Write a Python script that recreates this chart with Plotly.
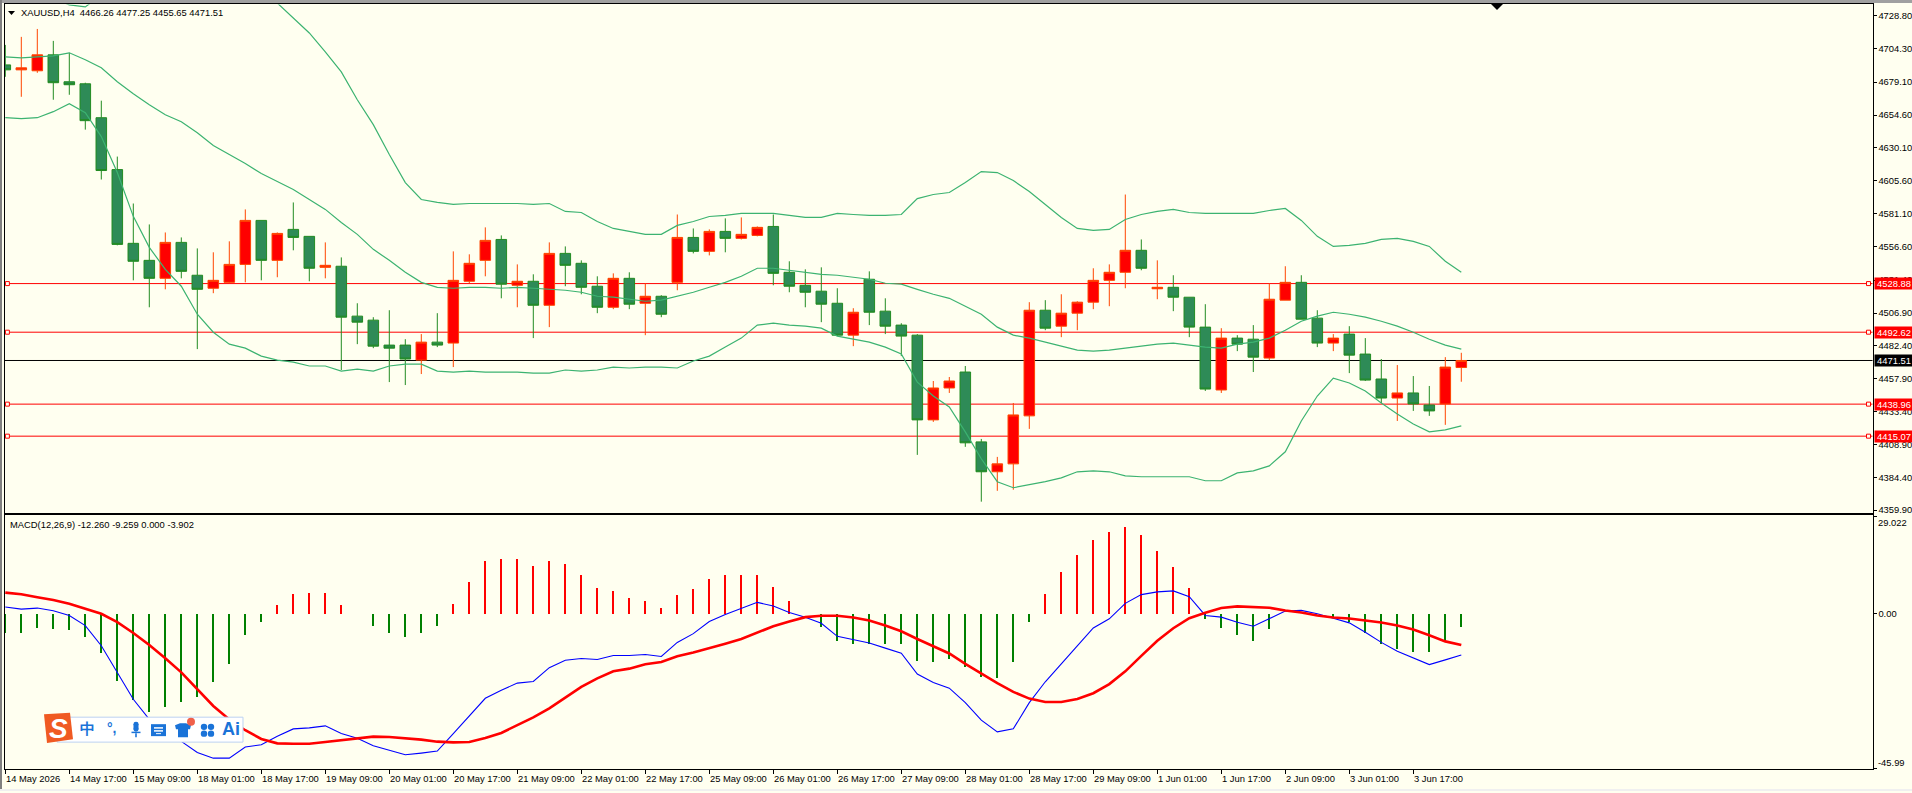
import plotly.graph_objects as go

WIDTH, HEIGHT = 1912, 793
IVORY = "#FFFFF0"
FONT = "Liberation Sans"

# --- XAUUSD H4 candles ---
opens = [
    4692.0, 4688.3, 4687.6, 4699.5, 4679.4, 4677.9, 4652.6, 4613.9, 4558.9, 4546.2,
    4532.8, 4559.6, 4535.1, 4525.4, 4529.8, 4543.2, 4576.0, 4546.2, 4569.3, 4564.1,
    4541.0, 4541.8, 4504.6, 4501.6, 4483.0, 4483.0, 4471.8, 4485.2, 4484.5, 4530.6,
    4546.2, 4561.8, 4527.6, 4530.6, 4512.7, 4551.4, 4544.0, 4526.9, 4511.2, 4532.8,
    4514.2, 4519.4, 4529.8, 4563.3, 4552.9, 4567.8, 4562.6, 4564.8, 4571.5, 4537.3,
    4527.6, 4523.2, 4514.2, 4490.4, 4532.1, 4508.3, 4497.9, 4490.4, 4427.2, 4451.0,
    4462.9, 4410.8, 4388.5, 4394.4, 4430.2, 4509.0, 4497.1, 4506.8, 4515.0, 4531.3,
    4537.3, 4553.7, 4525.0, 4526.1, 4518.7, 4496.4, 4449.5, 4488.2, 4487.4, 4473.3,
    4516.5, 4529.8, 4503.1, 4484.5, 4491.2, 4476.3, 4457.7, 4443.5, 4447.3, 4438.3,
    4439.1, 4466.26,
]
highs = [
    4706.9, 4712.9, 4718.8, 4709.9, 4701.0, 4678.7, 4665.3, 4623.6, 4588.6, 4573.0,
    4567.0, 4563.3, 4555.1, 4552.2, 4560.4, 4584.2, 4576.0, 4567.0, 4589.4, 4564.1,
    4559.6, 4548.4, 4514.2, 4503.8, 4509.0, 4487.4, 4491.2, 4506.8, 4552.9, 4550.7,
    4570.8, 4564.8, 4543.2, 4535.8, 4559.6, 4556.6, 4546.2, 4534.3, 4536.5, 4537.3,
    4529.1, 4520.2, 4580.4, 4570.0, 4569.3, 4577.5, 4578.2, 4571.5, 4580.4, 4545.5,
    4539.5, 4541.0, 4525.4, 4510.5, 4538.0, 4517.9, 4499.3, 4491.2, 4456.2, 4459.2,
    4467.4, 4413.0, 4399.6, 4439.8, 4515.0, 4516.5, 4520.9, 4515.7, 4540.3, 4543.2,
    4595.3, 4561.8, 4546.2, 4535.1, 4518.7, 4513.5, 4495.6, 4490.4, 4497.9, 4529.1,
    4541.8, 4535.1, 4509.0, 4491.2, 4497.1, 4488.2, 4472.6, 4468.1, 4459.9, 4452.5,
    4474.0, 4477.25,
]
lows = [
    4683.1, 4668.2, 4686.1, 4666.0, 4669.7, 4643.7, 4606.5, 4557.4, 4531.3, 4511.2,
    4524.6, 4532.8, 4480.0, 4521.7, 4529.1, 4529.8, 4531.3, 4533.6, 4553.7, 4530.6,
    4532.8, 4464.4, 4483.7, 4480.7, 4455.4, 4453.2, 4461.4, 4481.5, 4466.6, 4529.1,
    4534.3, 4517.9, 4511.2, 4488.2, 4496.4, 4526.9, 4520.9, 4506.8, 4509.8, 4509.8,
    4490.4, 4503.8, 4523.9, 4551.4, 4549.9, 4552.2, 4561.8, 4564.1, 4527.6, 4522.4,
    4511.2, 4500.1, 4489.7, 4482.2, 4497.9, 4491.2, 4474.8, 4401.1, 4425.7, 4447.3,
    4407.1, 4366.2, 4374.3, 4375.1, 4420.5, 4494.1, 4488.9, 4494.1, 4509.8, 4512.0,
    4525.4, 4538.8, 4517.2, 4508.3, 4488.9, 4448.8, 4447.3, 4478.5, 4462.9, 4471.8,
    4516.5, 4502.3, 4481.5, 4478.5, 4462.1, 4456.2, 4439.8, 4426.4, 4433.9, 4430.2,
    4423.5, 4455.65,
]
closes = [
    4688.3, 4689.8, 4699.5, 4678.7, 4677.2, 4650.4, 4613.2, 4558.1, 4545.5, 4532.8,
    4559.6, 4538.0, 4524.6, 4531.3, 4543.2, 4576.0, 4546.2, 4566.3, 4563.3, 4540.3,
    4542.5, 4503.8, 4500.1, 4482.2, 4480.7, 4472.6, 4485.2, 4483.0, 4531.3, 4544.0,
    4561.1, 4528.4, 4530.6, 4512.7, 4551.4, 4542.5, 4526.1, 4511.2, 4532.8, 4513.5,
    4519.4, 4506.0, 4563.3, 4552.9, 4567.8, 4562.6, 4565.6, 4570.8, 4536.5, 4526.9,
    4522.4, 4513.5, 4490.4, 4507.5, 4507.5, 4497.1, 4489.7, 4427.2, 4451.0, 4456.2,
    4410.1, 4388.5, 4394.4, 4430.9, 4509.0, 4495.6, 4506.8, 4515.0, 4531.3, 4537.3,
    4553.7, 4540.3, 4526.1, 4518.7, 4496.4, 4450.2, 4488.2, 4483.7, 4474.0, 4517.2,
    4529.8, 4502.3, 4484.5, 4488.2, 4475.5, 4456.9, 4443.5, 4447.3, 4439.1, 4433.9,
    4466.6, 4471.51,
]

# --- Bollinger bands ---
band_upper = [
    None, None, None, 4741.9, 4736.7, 4735.2, 4744.1, None, None, None,
    None, None, None, None, None, None, 4749.3, 4738.2, 4727.0, 4715.8,
    4701.7, 4686.8, 4666.0, 4647.4, 4625.1, 4604.2, 4591.6, 4589.4, 4587.9, 4588.6,
    4588.6, 4588.6, 4588.6, 4587.9, 4588.6, 4582.7, 4581.9, 4575.2, 4570.0, 4567.8,
    4565.6, 4565.6, 4572.3, 4575.2, 4578.9, 4579.7, 4581.2, 4581.2, 4581.2, 4579.7,
    4578.2, 4578.2, 4581.2, 4580.4, 4579.7, 4579.7, 4580.4, 4592.3, 4595.3, 4596.8,
    4604.2, 4612.4, 4611.7, 4605.7, 4597.6, 4587.9, 4578.2, 4570.0, 4568.5, 4569.3,
    4576.7, 4580.4, 4582.7, 4584.2, 4581.9, 4581.2, 4581.2, 4581.2, 4581.2, 4583.4,
    4584.9, 4576.0, 4564.1, 4556.6, 4557.4, 4558.9, 4561.8, 4562.6, 4560.4, 4556.6,
    4545.5, 4537.3,
]
band_middle = [
    4698.0, 4697.2, 4698.0, 4698.7, 4701.0, 4695.8, 4689.8, 4679.4, 4670.5, 4662.3,
    4654.8, 4649.6, 4641.4, 4631.8, 4625.1, 4618.4, 4611.0, 4605.0, 4599.0, 4591.6,
    4584.2, 4574.5, 4565.6, 4554.4, 4546.2, 4537.3, 4529.8, 4526.1, 4525.4, 4526.1,
    4526.1, 4525.4, 4526.1, 4525.4, 4524.6, 4523.9, 4522.4, 4519.4, 4518.7, 4517.2,
    4515.7, 4516.5, 4519.4, 4522.4, 4526.1, 4529.8, 4534.3, 4540.3, 4540.3, 4538.8,
    4537.3, 4535.8, 4535.1, 4533.6, 4532.1, 4529.1, 4528.4, 4524.6, 4520.9, 4517.9,
    4512.0, 4506.0, 4496.4, 4490.4, 4488.2, 4485.2, 4482.2, 4479.3, 4478.5, 4479.3,
    4480.7, 4482.2, 4483.7, 4484.5, 4483.0, 4481.5, 4480.7, 4483.7, 4485.2, 4488.2,
    4494.1, 4500.8, 4504.6, 4507.5, 4506.0, 4503.8, 4500.8, 4497.1, 4492.6, 4487.4,
    4483.0, 4480.0,
]
band_lower = [
    4652.6, 4651.9, 4652.6, 4657.1, 4663.0, 4656.3, 4638.5, 4611.7, 4579.0, 4555.9,
    4539.5, 4526.9, 4506.0, 4492.6, 4483.7, 4480.7, 4474.8, 4471.8, 4470.3, 4467.4,
    4467.4, 4463.6, 4465.1, 4463.6, 4467.4, 4468.8, 4468.8, 4463.6, 4462.9, 4463.6,
    4462.9, 4462.9, 4462.9, 4462.1, 4462.1, 4464.4, 4463.6, 4464.4, 4466.6, 4465.9,
    4466.6, 4466.6, 4465.9, 4471.1, 4474.8, 4481.5, 4488.2, 4497.9, 4499.3, 4497.9,
    4497.1, 4495.6, 4489.7, 4487.4, 4485.2, 4481.5, 4476.3, 4455.4, 4445.0, 4436.8,
    4418.3, 4398.2, 4381.1, 4376.6, 4378.8, 4381.1, 4384.0, 4388.5, 4389.2, 4388.5,
    4385.5, 4384.8, 4384.8, 4384.8, 4384.8, 4381.8, 4381.8, 4387.7, 4389.2, 4392.9,
    4403.4, 4426.4, 4445.0, 4458.4, 4454.7, 4448.8, 4439.8, 4431.6, 4424.2, 4418.3,
    4419.7, 4422.7,
]

# --- MACD(12,26,9) ---
macd_hist = [
    -5.8, -5.6, -4.1, -4.4, -4.7, -7.0, -11.7, -19.9, -25.6, -29.1,
    -27.7, -26.2, -24.6, -20.4, -14.9, -6.2, -2.3, 2.7, 6.0, 6.3,
    6.3, 2.7, -0.1, -3.7, -5.6, -6.8, -5.6, -3.7, 3.0, 9.5,
    15.6, 16.4, 16.4, 14.3, 15.6, 14.7, 11.4, 7.8, 6.9, 4.8,
    3.9, 1.8, 5.7, 7.4, 10.2, 11.4, 11.4, 11.6, 8.1, 3.9,
    -0.1, -3.8, -8.0, -8.9, -8.9, -8.9, -8.9, -13.9, -14.2, -13.4,
    -15.7, -18.7, -19.1, -14.2, -2.3, 6.0, 12.3, 17.4, 21.8, 24.2,
    25.8, 23.4, 18.8, 14.0, 7.8, -1.5, -4.1, -6.3, -8.0, -4.5,
    -0.2, 0.0, 0.0, -1.0, -2.4, -5.6, -8.9, -10.4, -11.3, -11.5,
    -8.3, -3.902,
]
macd_line = [
    2.0, 1.4, 1.7, 0.9, -0.5, -3.5, -9.5, -17.4, -25.4, -31.4,
    -34.9, -37.9, -41.2, -42.9, -42.9, -39.6, -38.9, -36.4, -34.2, -33.9,
    -33.3, -35.6, -37.0, -39.2, -40.6, -41.9, -41.4, -40.8, -35.6, -30.4,
    -25.1, -22.7, -20.6, -20.1, -16.0, -13.8, -13.3, -13.6, -12.4, -12.4,
    -12.1, -12.7, -8.5, -5.9, -2.3, -0.2, 1.6, 3.4, 2.3, 0.4,
    -1.0, -2.8, -6.7, -7.7, -8.7, -10.2, -11.7, -17.9, -20.4, -22.1,
    -26.4, -31.6, -35.1, -34.2, -26.4, -20.2, -15.0, -9.5, -4.2, -1.5,
    3.1, 5.7, 6.5, 6.8, 5.1, -0.5, -1.0, -2.5, -3.7, -1.5,
    0.8, 1.0, 0.0, -1.3, -2.7, -5.5, -8.5, -11.1, -13.2, -15.1,
    -13.7, -12.26,
]
macd_signal = [
    6.3, 5.8, 4.9, 4.1, 3.0, 1.5, 0.0, -2.5, -5.7, -9.3,
    -13.2, -17.4, -22.4, -27.4, -31.4, -34.6, -37.2, -38.5, -38.6, -38.6,
    -38.1, -37.6, -36.9, -36.5, -36.6, -36.9, -37.4, -38.0, -38.2, -38.1,
    -36.9, -35.4, -33.2, -30.8, -28.1, -24.9, -21.7, -19.2, -17.1, -16.3,
    -15.0, -14.3, -12.6, -11.5, -10.3, -8.9, -7.5, -5.7, -3.7, -2.3,
    -1.0, -0.6, -0.6, -1.1, -2.0, -3.5, -5.2, -7.5, -9.7, -11.8,
    -14.9, -17.8, -20.6, -23.2, -25.2, -26.2, -26.2, -25.3, -23.6, -20.9,
    -17.1, -12.5, -8.0, -4.3, -1.3, 0.3, 1.7, 2.2, 1.9, 1.8,
    1.0, 0.4, -0.5, -1.1, -1.4, -1.9, -2.6, -3.5, -4.7, -6.4,
    -8.2, -9.259,
]

# --- horizontal levels and axis labels ---
resistance_levels = [4528.88, 4492.62, 4438.96, 4415.07]
last_price = 4471.51
price_ticks = [4728.80, 4704.30, 4679.10, 4654.60, 4630.10, 4605.60, 4581.10, 4556.60,
               4531.40, 4506.90, 4482.40, 4457.90, 4433.40, 4408.90, 4384.40, 4359.90]
date_ticks = list(range(0, 92, 4))
date_labels = ["14 May 2026", "14 May 17:00", "15 May 09:00", "18 May 01:00", "18 May 17:00",
               "19 May 09:00", "20 May 01:00", "20 May 17:00", "21 May 09:00", "22 May 01:00",
               "22 May 17:00", "25 May 09:00", "26 May 01:00", "26 May 17:00", "27 May 09:00",
               "28 May 01:00", "28 May 17:00", "29 May 09:00", "1 Jun 01:00", "1 Jun 17:00",
               "2 Jun 09:00", "3 Jun 01:00", "3 Jun 17:00"]

bars = list(range(len(closes)))
for series in (opens, highs, lows, band_upper, band_middle, band_lower,
               macd_hist, macd_line, macd_signal):
    assert len(series) == len(bars)
assert len(date_ticks) == len(date_labels)


def px(x):
    return x / WIDTH


def py(y):
    return 1 - y / HEIGHT


def rect(x0, y0, x1, y1, fill, line=None, width=0):
    return dict(type="rect", xref="paper", yref="paper", x0=px(x0), x1=px(x1), y0=py(y0), y1=py(y1),
                fillcolor=fill, line=dict(color=line or fill, width=width), layer="above")


def poly(points, fill, line_color=None):
    path = "M " + " L ".join(f"{px(x):.5f},{py(y):.5f}" for x, y in points) + " Z"
    return dict(type="path", xref="paper", yref="paper", path=path, fillcolor=fill,
                line=dict(color=line_color or fill, width=0), layer="above")


def dot(cx, cy, r, fill):
    return dict(type="circle", xref="paper", yref="paper", x0=px(cx - r), x1=px(cx + r),
                y0=py(cy + r), y1=py(cy - r), fillcolor=fill, line=dict(width=0), layer="above")


def label(x, y, text, color="#000000", size=9.4, anchor="left", bg=None, **extra):
    return dict(xref="paper", yref="paper", x=px(x), y=py(y), text=text, showarrow=False,
                xanchor=anchor, yanchor="middle", align="left", bgcolor=bg,
                font=dict(family=FONT, size=size, color=color), borderpad=0, **extra)


def price_flag(level, fill):
    return dict(xref="paper", yref="y", x=px(1874), y=level, text=f"{level:.2f}", showarrow=False,
                xanchor="left", yanchor="middle", align="center", valign="middle", bgcolor=fill,
                width=38, height=11, borderpad=0,
                font=dict(family=FONT, size=9.4, color="#FFFFFF"))


fig = go.Figure()

# price pane
fig.add_trace(go.Candlestick(
    x=bars, open=opens, high=highs, low=lows, close=closes,
    increasing=dict(line=dict(color="#FF4500", width=1), fillcolor="#FF0000"),
    decreasing=dict(line=dict(color="#228B22", width=1), fillcolor="#2E8B57"),
    whiskerwidth=0, xaxis="x", yaxis="y", showlegend=False,
))
for band in (band_upper, band_middle, band_lower):
    fig.add_trace(go.Scatter(x=bars, y=band, mode="lines", connectgaps=False,
                             line=dict(color="#3CB371", width=1.2), xaxis="x", yaxis="y",
                             showlegend=False))

# small hollow handles at both ends of every level
for end in (0.13, 116.45):
    fig.add_trace(go.Scatter(
        x=[end] * len(resistance_levels), y=resistance_levels, mode="markers",
        marker=dict(symbol="square", size=4, color=IVORY, line=dict(color="#FF0000", width=1)),
        xaxis="x", yaxis="y", showlegend=False, cliponaxis=False,
    ))

# MACD pane
fig.add_trace(go.Bar(x=bars, y=macd_hist, width=0.125,
                     marker=dict(color=["#FF0000" if v > 0 else "#008000" for v in macd_hist],
                                 line=dict(width=0)),
                     xaxis="x2", yaxis="y2", showlegend=False))
fig.add_trace(go.Scatter(x=bars, y=macd_line, mode="lines", line=dict(color="#0000FF", width=1.1),
                         xaxis="x2", yaxis="y2", showlegend=False))
fig.add_trace(go.Scatter(x=bars, y=macd_signal, mode="lines", line=dict(color="#FF0000", width=2.6),
                         xaxis="x2", yaxis="y2", showlegend=False))

shapes = []
for level in resistance_levels:
    shapes.append(dict(type="line", xref="x domain", yref="y", x0=0, x1=1, y0=level, y1=level,
                       line=dict(color="#FF0000", width=1), layer="below"))
shapes.append(dict(type="line", xref="x domain", yref="y", x0=0, x1=1, y0=last_price, y1=last_price,
                   line=dict(color="#000000", width=1), layer="below"))

# window edges
shapes += [
    rect(0, 0, WIDTH, 3, "#A0A0A0"),
    rect(0, 0, 2, HEIGHT, "#808080"),
    rect(0, 791, WIDTH, HEIGHT, "#F0F0F0"),
]
# drop-down arrow beside the symbol and the chart-shift marker
shapes.append(poly([(8, 11), (15, 11), (11.5, 15)], "#000000"))
shapes.append(poly([(1491, 4), (1503, 4), (1497, 10)], "#000000"))

# floating input-method toolbar
BLUE = "#1A73D8"
shapes += [
    dict(type="path", xref="paper", yref="paper", layer="above", fillcolor="#FFFFFF",
         line=dict(color="#BCD2F2", width=1),
         path="M " + " L ".join(f"{px(x):.5f},{py(y):.5f}" for x, y in
                                [(57, 719), (243, 719), (243, 744), (57, 744)]) + " Z"),
    poly([(44, 716), (70, 714.5), (73, 741), (47, 745)], "#F05A22"),
    dot(136, 726, 2.5, BLUE),
    rect(133.5, 726, 138.5, 731, BLUE),
    dot(136, 731, 2.5, BLUE),
    rect(131.5, 733.5, 140.5, 735, BLUE),
    rect(135.2, 735, 136.8, 739, BLUE),
    rect(151, 726, 166, 738, BLUE),
    rect(154, 729, 163, 730.5, "#FFFFFF"),
    rect(154, 732, 163, 733.5, "#FFFFFF"),
    rect(156, 735, 161, 736, "#FFFFFF"),
    poly([(175, 727), (180, 725), (186, 725), (191, 727), (190, 731), (188, 731),
          (188, 739), (178, 739), (178, 731), (176, 731)], BLUE),
    dot(191, 723.5, 4, "#F0604A"),
    dot(204, 728.7, 3.2, BLUE), dot(211, 728.7, 3.2, BLUE),
    dot(204, 735.5, 3.2, BLUE), dot(211, 735.5, 3.2, BLUE),
]

annotations = [
    label(19.5, 12.5, "XAUUSD,H4&nbsp;&nbsp;4466.26 4477.25 4455.65 4471.51"),
    label(8.5, 525.4, "MACD(12,26,9) -12.260 -9.259 0.000 -3.902"),
    label(1877, 523.4, "29.022"),
    label(1877, 764, "-45.99"),
    label(58, 730, "<b><i>S</i></b>", color="#FFFFFF", size=28, anchor="center"),
    label(87, 730.5, "<b>中</b>", color=BLUE, size=15, anchor="center"),
    label(111.5, 730, "<b>°,</b>", color=BLUE, size=14, anchor="center"),
    label(231, 731, "<b>Ai</b>", color=BLUE, size=18, anchor="center"),
]
for bar, text in zip(date_ticks, date_labels):
    annotations.append(dict(xref="x2", yref="paper", x=bar, y=py(780), text=text, showarrow=False,
                            xanchor="left", yanchor="middle", xshift=-1,
                            font=dict(family=FONT, size=9.4, color="#000000")))
# price flags sit on top of the axis labels
annotations += [price_flag(level, "#FF0000") for level in resistance_levels]
annotations.append(price_flag(last_price, "#000000"))

axis_frame = dict(showline=True, linecolor="#000000", linewidth=1, mirror=True, showgrid=False,
                  zeroline=False)
tick_font = dict(family=FONT, size=9.4, color="#000000")

fig.update_layout(
    width=WIDTH, height=HEIGHT, margin=dict(l=0, r=0, t=0, b=0), autosize=False,
    paper_bgcolor=IVORY, plot_bgcolor=IVORY, showlegend=False, hovermode=False,
    boxgap=0.2, boxgroupgap=0.175, bargap=0,
    shapes=shapes, annotations=annotations,
    xaxis=dict(domain=[px(4.5), px(1872.5)], range=[-0.05, 116.7], anchor="y",
               rangeslider=dict(visible=False), showticklabels=False, ticks="", **axis_frame),
    yaxis=dict(domain=[py(514.5), py(4.5)], range=[4357.6, 4737.05], anchor="x", side="right",
               tickmode="array", tickvals=price_ticks, ticktext=[f"{v:.2f}" for v in price_ticks],
               ticks="outside", ticklen=3, tickcolor="#000000", tickfont=tick_font, **axis_frame),
    xaxis2=dict(domain=[px(4.5), px(1872.5)], range=[-0.05, 116.7], anchor="y2",
                tickmode="array", tickvals=date_ticks, ticktext=[""] * len(date_ticks),
                ticks="outside", ticklen=4, tickcolor="#000000", **axis_frame),
    yaxis2=dict(domain=[py(770.5), py(516.5)], range=[-45.99, 29.3], anchor="x2", side="right",
                tickmode="array", tickvals=[29.022, 0, -45.99], ticktext=["", "0.00", ""],
                ticks="outside", ticklen=3, tickcolor="#000000", tickfont=tick_font, **axis_frame),
)

fig.write_html("out.html", config=dict(displayModeBar=False, staticPlot=True))
